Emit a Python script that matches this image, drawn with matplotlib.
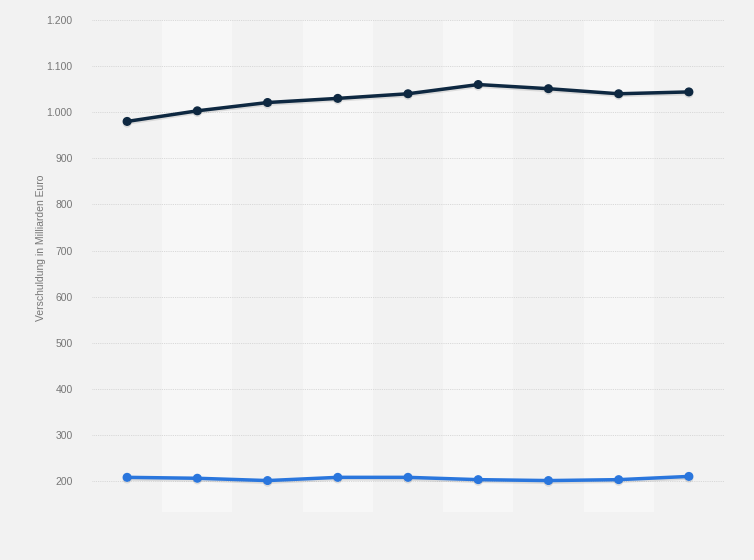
import matplotlib.pyplot as plt
from matplotlib.ticker import FuncFormatter
import matplotlib.patheffects as pe

plt.rcParams['font.family'] = ['Liberation Sans', 'DejaVu Sans']

# years are not labelled in the picture, only positions
positions = list(range(9))
schulden_gesamt = [980, 1003, 1021, 1030, 1040, 1060, 1051, 1040, 1044]
schulden_teil = [208, 206, 201, 208, 208, 203, 201, 203, 210]
y_ticks = [200, 300, 400, 500, 600, 700, 800, 900, 1000, 1100, 1200]

fig = plt.figure(figsize=(7.54, 5.60), dpi=100)
fig.patch.set_facecolor('#f2f2f2')
ax = fig.add_axes([92 / 754, 48 / 560, 632 / 754, 492 / 560])
ax.set_facecolor('#f2f2f2')

# alternating column bands
for i in positions:
    if i % 2 == 1:
        ax.axvspan(i - 0.5, i + 0.5, color='#f7f7f7', zorder=0, lw=0)

shadow = [pe.SimpleLineShadow(offset=(0, -1.2), shadow_color='#000000', alpha=0.1), pe.Normal()]
ax.plot(positions, schulden_gesamt, color='#0e2841', lw=2.5, marker='o', ms=5.5,
        zorder=3, path_effects=shadow)
ax.plot(positions, schulden_teil, color='#2a76dd', lw=2.5, marker='o', ms=5.5,
        zorder=3, path_effects=shadow)

ax.set_xlim(-0.5, 8.5)
ax.set_ylim(200 - 31 / 0.4615, 1200)
ax.set_yticks(y_ticks)
ax.yaxis.set_major_formatter(FuncFormatter(lambda v, p: f'{int(v):,}'.replace(',', '.')))
ax.grid(axis='y', color='#cfcfcf', linestyle=(0, (1, 1.2)), linewidth=0.6, zorder=1)
ax.set_xticks([])
ax.tick_params(axis='y', length=0, pad=14, labelsize=7.5, labelcolor='#777777')
for s in ax.spines.values():
    s.set_visible(False)

fig.text(41 / 754, 1 - 248 / 560, 'Verschuldung in Milliarden Euro', rotation=90,
         ha='center', va='center', fontsize=7.5, color='#777777')

plt.savefig('out.png', dpi=100, facecolor=fig.get_facecolor())
